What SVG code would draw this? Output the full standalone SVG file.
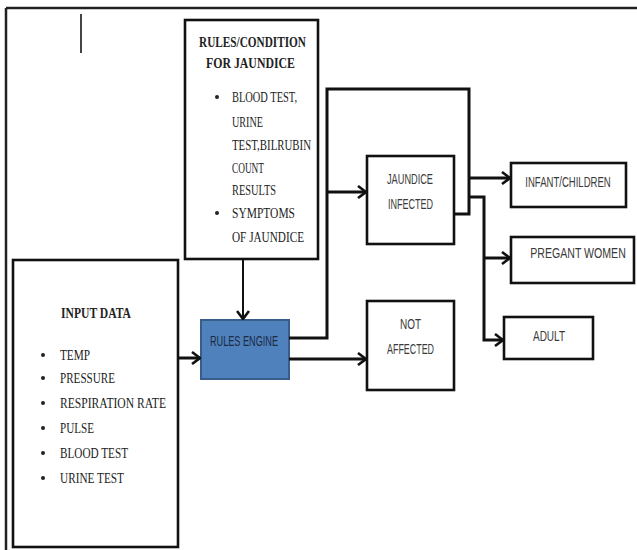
<svg xmlns="http://www.w3.org/2000/svg" width="637" height="550" viewBox="0 0 637 550">
<style>
.box{fill:#fff;stroke:#111;stroke-width:2.6}
.serif{font-family:"Liberation Serif","Times New Roman",serif;font-size:15px;fill:#222}
.bold{font-weight:bold}
.sans{font-family:"Liberation Sans",Arial,sans-serif;font-size:14.5px;fill:#3a3a3a}
.conn{fill:none;stroke:#111;stroke-width:3}
</style>
<defs>
<marker id="arr" viewBox="0 0 10 14" refX="9" refY="7" markerWidth="10" markerHeight="14" markerUnits="userSpaceOnUse" orient="auto">
<path d="M1,1 L9,7 L1,13" fill="none" stroke="#111" stroke-width="2.6"/>
</marker>
</defs>
<rect width="637" height="550" fill="#fff"/>
<g id="frame">
<line x1="6" y1="8" x2="637" y2="8" stroke="#222" stroke-width="2.5"/>
<line x1="6" y1="8" x2="6" y2="550" stroke="#222" stroke-width="2.5"/>
<line x1="81" y1="14" x2="81" y2="53" stroke="#444" stroke-width="2"/>
</g>
<g id="rules-condition">
<rect class="box" x="185" y="20" width="133" height="239"/>
<text class="serif bold" x="199" y="47" textLength="107" lengthAdjust="spacingAndGlyphs">RULES/CONDITION</text>
<text class="serif bold" x="206" y="68" textLength="89" lengthAdjust="spacingAndGlyphs">FOR JAUNDICE</text>
<circle cx="217" cy="97" r="2" fill="#222"/>
<text class="serif" x="232" y="102" textLength="65" lengthAdjust="spacingAndGlyphs">BLOOD TEST,</text>
<text class="serif" x="232" y="127" textLength="31" lengthAdjust="spacingAndGlyphs">URINE</text>
<text class="serif" x="232" y="150" textLength="79" lengthAdjust="spacingAndGlyphs">TEST,BILRUBIN</text>
<text class="serif" x="232" y="173" textLength="32" lengthAdjust="spacingAndGlyphs">COUNT</text>
<text class="serif" x="232" y="195" textLength="44" lengthAdjust="spacingAndGlyphs">RESULTS</text>
<circle cx="217" cy="213" r="2" fill="#222"/>
<text class="serif" x="232" y="218" textLength="63" lengthAdjust="spacingAndGlyphs">SYMPTOMS</text>
<text class="serif" x="232" y="242" textLength="72" lengthAdjust="spacingAndGlyphs">OF JAUNDICE</text>
</g>
<g id="input-data">
<rect class="box" x="13" y="260" width="165" height="287"/>
<text class="serif bold" x="61" y="318" textLength="70" lengthAdjust="spacingAndGlyphs">INPUT DATA</text>
<circle cx="43" cy="355" r="2" fill="#222"/>
<text class="serif" x="60" y="360" textLength="30" lengthAdjust="spacingAndGlyphs">TEMP</text>
<circle cx="43" cy="378" r="2" fill="#222"/>
<text class="serif" x="60" y="383" textLength="55" lengthAdjust="spacingAndGlyphs">PRESSURE</text>
<circle cx="43" cy="403" r="2" fill="#222"/>
<text class="serif" x="60" y="408" textLength="106" lengthAdjust="spacingAndGlyphs">RESPIRATION RATE</text>
<circle cx="43" cy="428" r="2" fill="#222"/>
<text class="serif" x="60" y="433" textLength="34" lengthAdjust="spacingAndGlyphs">PULSE</text>
<circle cx="43" cy="453" r="2" fill="#222"/>
<text class="serif" x="60" y="458" textLength="68" lengthAdjust="spacingAndGlyphs">BLOOD TEST</text>
<circle cx="43" cy="478" r="2" fill="#222"/>
<text class="serif" x="60" y="483" textLength="64" lengthAdjust="spacingAndGlyphs">URINE TEST</text>
</g>
<g id="rules-engine">
<rect x="201" y="320" width="88" height="59" fill="#4F81BD" stroke="#385D8A" stroke-width="2"/>
<text class="sans" x="210" y="346" textLength="68" lengthAdjust="spacingAndGlyphs" style="fill:#1c2a44">RULES ENGINE</text>
</g>
<g id="jaundice-infected">
<rect class="box" x="367" y="156" width="87" height="88"/>
<text class="sans" x="387" y="184" textLength="46" lengthAdjust="spacingAndGlyphs">JAUNDICE</text>
<text class="sans" x="388" y="209" textLength="45" lengthAdjust="spacingAndGlyphs">INFECTED</text>
</g>
<g id="not-affected">
<rect class="box" x="367" y="301" width="87" height="89"/>
<text class="sans" x="400" y="329" textLength="21" lengthAdjust="spacingAndGlyphs">NOT</text>
<text class="sans" x="387" y="354" textLength="47" lengthAdjust="spacingAndGlyphs">AFFECTED</text>
</g>
<g id="infant-children">
<rect class="box" x="511" y="163" width="115" height="44"/>
<text class="sans" transform="translate(568,187) scale(0.66,1)" text-anchor="middle">INFANT/CHILDREN</text>
</g>
<g id="pregnant-women">
<rect class="box" x="511" y="237" width="123" height="46"/>
<text class="sans" transform="translate(578,258) scale(0.73,1)" text-anchor="middle">PREGANT WOMEN</text>
</g>
<g id="adult">
<rect class="box" x="504" y="317" width="89" height="42"/>
<text class="sans" x="533" y="341" textLength="32" lengthAdjust="spacingAndGlyphs">ADULT</text>
</g>
<g id="connectors">
<line x1="243" y1="260" x2="243" y2="319" stroke="#111" stroke-width="2" marker-end="url(#arr)"/>
<line class="conn" x1="178" y1="358" x2="200" y2="358" marker-end="url(#arr)"/>
<path class="conn" d="M289,338 H327 V89 H469 V214 H454"/>
<line class="conn" x1="327" y1="192" x2="366" y2="192" marker-end="url(#arr)"/>
<line class="conn" x1="469" y1="178" x2="510" y2="178" marker-end="url(#arr)"/>
<path class="conn" d="M469,197 H484 V340 H503" marker-end="url(#arr)"/>
<line class="conn" x1="484" y1="258" x2="510" y2="258" marker-end="url(#arr)"/>
<line class="conn" x1="289" y1="359" x2="366" y2="359" marker-end="url(#arr)"/>
</g>
</svg>
